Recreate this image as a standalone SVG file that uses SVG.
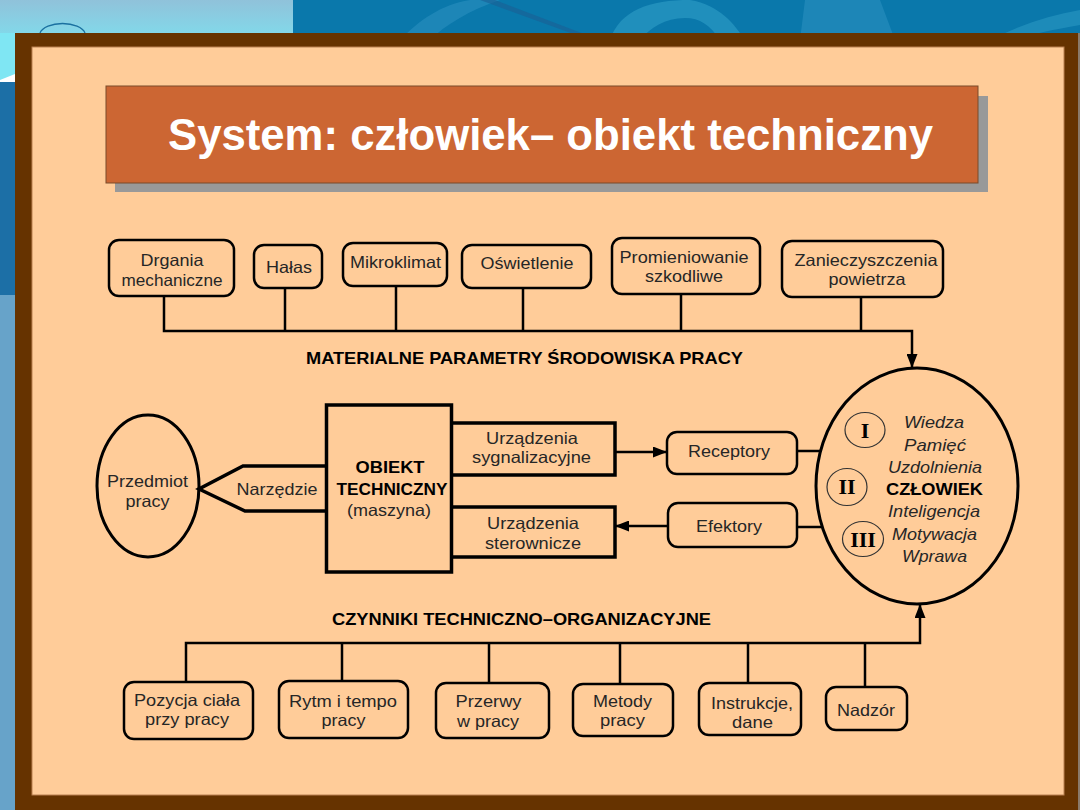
<svg xmlns="http://www.w3.org/2000/svg" width="1080" height="810" viewBox="0 0 1080 810">
<defs>
<linearGradient id="sky" x1="0" y1="0" x2="0" y2="1"><stop offset="0" stop-color="#90c2da"/><stop offset="1" stop-color="#80dcec"/></linearGradient>
<marker id="arr" markerUnits="userSpaceOnUse" markerWidth="14" markerHeight="11" refX="14" refY="5.5" orient="auto"><path d="M0,0 L14,5.5 L0,11 z" fill="#000"/></marker>
<style>
.box{fill:none;stroke:#000;stroke-width:2.5}
.rb{fill:none;stroke:#000;stroke-width:3.5}
.ln{fill:none;stroke:#000;stroke-width:2.5}
.t{font-family:"Liberation Sans",Arial,sans-serif;font-size:16.5px;fill:#262626;text-anchor:middle}
.b{font-weight:bold;fill:#000}
.i{font-style:italic}
.num{font-family:"Liberation Serif","Times New Roman",serif;font-size:22px;font-weight:bold;fill:#000;text-anchor:middle}
.nc{fill:none;stroke:#333;stroke-width:1.2}
</style>
</defs>
<!-- background -->
<rect width="1080" height="810" fill="#0a78ab"/>
<rect x="0" y="0" width="293" height="40" fill="url(#sky)"/>
<path d="M400,40 C420,20 440,5 470,0 L500,0 C470,10 445,25 430,40 Z" fill="#2a8fc0" opacity="0.6"/>
<path d="M610,40 C620,10 650,0 690,0 C720,5 735,25 745,40 L720,40 C710,25 700,18 685,18 C665,18 650,28 640,40 Z" fill="#2a98c3" opacity="0.7"/>
<path d="M800,40 L805,0 L880,0 L895,40 Z" fill="#2a90bf" opacity="0.6"/>
<path d="M480,0 L590,40 L600,40 L495,0 Z" fill="#1a5f95" opacity="0.6"/>
<path d="M990,40 C1020,25 1050,15 1080,10 L1080,25 C1050,30 1030,35 1010,40 Z" fill="#2a98c3" opacity="0.6"/>
<path d="M40,33 A23,12 0 0 1 85,33" fill="none" stroke="#1a70a0" stroke-width="1.3"/>
<rect x="0" y="33" width="15" height="49" fill="#7fe6f3"/>
<path d="M0,80 L15,74 L15,82 L0,82 Z" fill="#ffffff"/>
<rect x="0" y="82" width="15" height="213" fill="#1c6fa6"/>
<rect x="0" y="295" width="15" height="515" fill="#67a3c9"/>
<!-- frame -->
<rect x="15" y="33" width="1063" height="777" fill="#663300"/>
<rect x="1078" y="33" width="2" height="777" fill="#8a7a6a"/>
<rect x="32" y="47" width="1032" height="748" fill="#ffcc99" stroke="#b98050" stroke-width="1"/>
<!-- title -->
<g id="title">
<rect x="115" y="96" width="873" height="96" fill="#999999"/>
<rect x="106" y="86" width="872" height="97" fill="#cc6633" stroke="#7a4a2a" stroke-width="1"/>
<text x="168" y="150" font-family="'Liberation Sans',Arial,sans-serif" font-size="44" font-weight="bold" fill="#ffffff" textLength="765" lengthAdjust="spacingAndGlyphs">System: człowiek– obiekt techniczny</text>
</g>
<!-- connectors -->
<g id="connectors">
<path class="ln" d="M164,296 V331 H912 V368" marker-end="url(#arr)"/>
<path class="ln" d="M285,288 V331 M396,286 V331 M523,288 V331 M681,294 V331 M861,297 V331"/>
<path class="ln" d="M186,682 V643 H920 V604" marker-end="url(#arr)"/>
<path class="ln" d="M342,681 V643 M489,683 V643 M620,684 V643 M748,683 V643 M865,687 V643"/>
<path class="ln" d="M615,452 H667" marker-end="url(#arr)"/>
<path class="ln" d="M668,526 H615" marker-end="url(#arr)"/>
<path class="ln" d="M797,451 H821 M797,527 H822"/>
</g>
<!-- top nodes -->
<g id="drgania"><rect class="box" x="109" y="240" width="125" height="56" rx="10"/><text class="t" x="172" y="266" textLength="63" lengthAdjust="spacingAndGlyphs">Drgania</text><text class="t" x="172" y="286" textLength="101" lengthAdjust="spacingAndGlyphs">mechaniczne</text></g>
<g id="halas"><rect class="box" x="254" y="245" width="68" height="43" rx="10"/><text class="t" x="289" y="273" textLength="46" lengthAdjust="spacingAndGlyphs">Hałas</text></g>
<g id="mikroklimat"><rect class="box" x="343" y="243" width="104" height="43" rx="10"/><text class="t" x="395.5" y="268" textLength="91" lengthAdjust="spacingAndGlyphs">Mikroklimat</text></g>
<g id="oswietlenie"><rect class="box" x="462" y="245" width="129" height="43" rx="10"/><text class="t" x="527" y="269" textLength="93" lengthAdjust="spacingAndGlyphs">Oświetlenie</text></g>
<g id="promieniowanie"><rect class="box" x="612" y="238" width="148" height="56" rx="10"/><text class="t" x="684" y="263" textLength="129" lengthAdjust="spacingAndGlyphs">Promieniowanie</text><text class="t" x="684" y="282" textLength="78" lengthAdjust="spacingAndGlyphs">szkodliwe</text></g>
<g id="zanieczyszczenia"><rect class="box" x="782" y="241" width="161" height="56" rx="10"/><text class="t" x="866" y="266" textLength="143" lengthAdjust="spacingAndGlyphs">Zanieczyszczenia</text><text class="t" x="867" y="285" textLength="77" lengthAdjust="spacingAndGlyphs">powietrza</text></g>
<g id="label-materialne"><text class="t b" x="524.5" y="364" textLength="437" lengthAdjust="spacingAndGlyphs">MATERIALNE PARAMETRY ŚRODOWISKA PRACY</text></g>
<!-- middle nodes -->
<g id="przedmiot"><ellipse cx="148" cy="486" rx="51" ry="71" fill="none" stroke="#000" stroke-width="3"/><text class="t" x="147.5" y="487" textLength="81" lengthAdjust="spacingAndGlyphs">Przedmiot</text><text class="t" x="147.5" y="507" textLength="44" lengthAdjust="spacingAndGlyphs">pracy</text></g>
<g id="narzedzie"><path class="rb" d="M326,466 H243 L199,489 L245,511 H326" stroke-width="3"/><text class="t" x="277" y="495" textLength="81" lengthAdjust="spacingAndGlyphs">Narzędzie</text></g>
<g id="obiekt"><rect class="rb" x="326.5" y="405" width="125" height="167"/><text class="t b" x="390" y="473" textLength="69" lengthAdjust="spacingAndGlyphs">OBIEKT</text><text class="t b" x="392" y="495" textLength="111" lengthAdjust="spacingAndGlyphs">TECHNICZNY</text><text class="t" x="389" y="516" textLength="84" lengthAdjust="spacingAndGlyphs">(maszyna)</text></g>
<g id="sygnalizacyjne"><path class="rb" d="M452,423 H615 V475 H452"/><text class="t" x="532" y="444" textLength="92" lengthAdjust="spacingAndGlyphs">Urządzenia</text><text class="t" x="531.5" y="463" textLength="119" lengthAdjust="spacingAndGlyphs">sygnalizacyjne</text></g>
<g id="sterownicze"><path class="rb" d="M452,507 H615 V557 H452"/><text class="t" x="533" y="529" textLength="92" lengthAdjust="spacingAndGlyphs">Urządzenia</text><text class="t" x="533" y="549" textLength="96" lengthAdjust="spacingAndGlyphs">sterownicze</text></g>
<g id="receptory"><rect class="box" x="667" y="432" width="130" height="42" rx="10"/><text class="t" x="729" y="457" textLength="82" lengthAdjust="spacingAndGlyphs">Receptory</text></g>
<g id="efektory"><rect class="box" x="668" y="503" width="129" height="44" rx="10"/><text class="t" x="729" y="532" textLength="66" lengthAdjust="spacingAndGlyphs">Efektory</text></g>
<g id="czlowiek">
<ellipse cx="917" cy="486" rx="101" ry="118" fill="none" stroke="#000" stroke-width="3"/>
<ellipse class="nc" cx="865" cy="430" rx="20" ry="17.5"/><text class="num" x="865" y="438">I</text>
<ellipse class="nc" cx="847" cy="487" rx="20" ry="18.5"/><text class="num" x="847" y="494">II</text>
<ellipse class="nc" cx="863" cy="539" rx="20.5" ry="17.5"/><text class="num" x="863" y="547">III</text>
<text class="t i" x="934" y="428" textLength="60" lengthAdjust="spacingAndGlyphs">Wiedza</text>
<text class="t i" x="935" y="451" textLength="62" lengthAdjust="spacingAndGlyphs">Pamięć</text>
<text class="t i" x="935" y="473" textLength="94" lengthAdjust="spacingAndGlyphs">Uzdolnienia</text>
<text class="t b" x="934.5" y="495" textLength="97" lengthAdjust="spacingAndGlyphs">CZŁOWIEK</text>
<text class="t i" x="934" y="517" textLength="92" lengthAdjust="spacingAndGlyphs">Inteligencja</text>
<text class="t i" x="934.5" y="540" textLength="85" lengthAdjust="spacingAndGlyphs">Motywacja</text>
<text class="t i" x="934.5" y="562" textLength="65" lengthAdjust="spacingAndGlyphs">Wprawa</text>
</g>
<g id="label-czynniki"><text class="t b" x="521.5" y="625" textLength="379" lengthAdjust="spacingAndGlyphs">CZYNNIKI TECHNICZNO–ORGANIZACYJNE</text></g>
<!-- bottom nodes -->
<g id="pozycja"><rect class="box" x="124" y="682" width="129" height="57" rx="10"/><text class="t" x="187" y="706" textLength="106" lengthAdjust="spacingAndGlyphs">Pozycja ciała</text><text class="t" x="187" y="725" textLength="84" lengthAdjust="spacingAndGlyphs">przy pracy</text></g>
<g id="rytm"><rect class="box" x="279" y="681" width="129" height="57" rx="10"/><text class="t" x="343" y="707" textLength="108" lengthAdjust="spacingAndGlyphs">Rytm i tempo</text><text class="t" x="343.5" y="726" textLength="44" lengthAdjust="spacingAndGlyphs">pracy</text></g>
<g id="przerwy"><rect class="box" x="436" y="683" width="113" height="55" rx="10"/><text class="t" x="488.5" y="707" textLength="66" lengthAdjust="spacingAndGlyphs">Przerwy</text><text class="t" x="488" y="727" textLength="62" lengthAdjust="spacingAndGlyphs">w pracy</text></g>
<g id="metody"><rect class="box" x="573" y="684" width="100" height="52" rx="10"/><text class="t" x="622.5" y="707" textLength="59" lengthAdjust="spacingAndGlyphs">Metody</text><text class="t" x="622.5" y="726" textLength="45" lengthAdjust="spacingAndGlyphs">pracy</text></g>
<g id="instrukcje"><rect class="box" x="699" y="683" width="102" height="52" rx="10"/><text class="t" x="752" y="709" textLength="82" lengthAdjust="spacingAndGlyphs">Instrukcje,</text><text class="t" x="752.5" y="728" textLength="41" lengthAdjust="spacingAndGlyphs">dane</text></g>
<g id="nadzor"><rect class="box" x="826" y="687" width="81" height="43" rx="10"/><text class="t" x="866" y="716" textLength="58" lengthAdjust="spacingAndGlyphs">Nadzór</text></g>
</svg>
